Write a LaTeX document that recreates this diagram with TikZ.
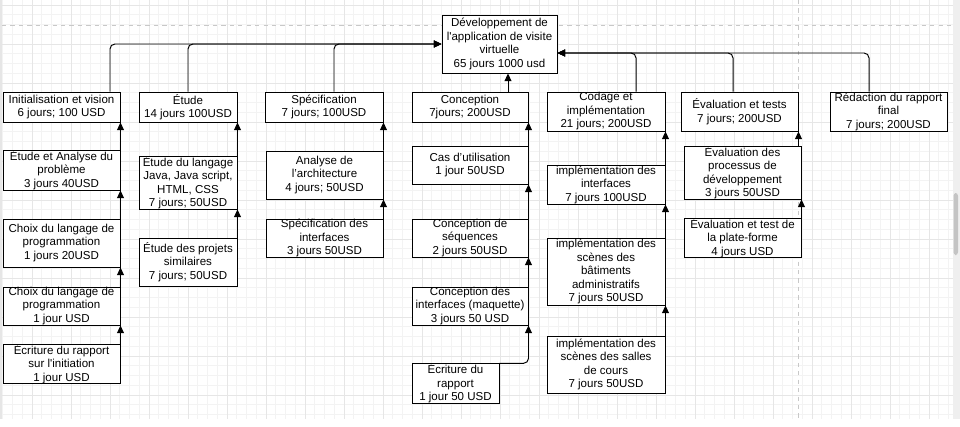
\documentclass[tikz,border=0pt]{standalone}
\usepackage{fontspec}
\setmainfont{Liberation Sans}
\usetikzlibrary{positioning, calc, arrows.meta}
\definecolor{gridminor}{HTML}{F3F3F3}
\definecolor{gridmajor}{HTML}{E6E6E6}
\definecolor{pageline}{HTML}{C8C8C8}
\definecolor{uitrack}{HTML}{EFEFEF}
\definecolor{uithumb}{HTML}{C4C4C4}
\tikzset{wbs/.style={draw, line width=0.7pt, fill=white, align=center, inner sep=0pt, font=\fontsize{8.2}{9.6}\selectfont}}
\tikzset{boxsize/.style 2 args={minimum width=#1*0.025cm, minimum height=#2*0.025cm}}
\tikzset{link/.style={line width=0.7pt, -{Triangle[width=5pt,length=5.5pt]}}}
\tikzset{bus/.style={link, rounded corners=3.5pt}}
\begin{document}
\begin{tikzpicture}[x=0.025cm, y=-0.025cm]
  \useasboundingbox (0,0) rectangle (960,427);
  \fill[white] (0,0) rectangle (960,427);

  % canvas grid
  \foreach \k in {-3,...,94}
    \draw[gridminor, line width=0.5pt] ({32+9.75*\k},0) -- ({32+9.75*\k},419);
  \foreach \k in {-4,...,38}
    \draw[gridminor, line width=0.5pt] (2,{44+9.75*\k}) -- (953,{44+9.75*\k});
  \foreach \k in {0,...,23}
    \draw[gridmajor, line width=0.5pt] ({32+39*\k},0) -- ({32+39*\k},419);
  \foreach \k in {-1,...,9}
    \draw[gridmajor, line width=0.5pt] (2,{44+39*\k}) -- (953,{44+39*\k});
  \draw[pageline, dashed, line width=0.5pt] (2,25) -- (953,25);
  \draw[pageline, dashed, line width=0.5pt] (798,0) -- (798,419);
  \fill[gridmajor] (0,0) rectangle (2,419);
  \fill[uitrack] (953,0) rectangle (960,419);
  \fill[uithumb, rounded corners=2pt] (953.5,193) rectangle (958,255);

  % root
  \node[wbs, boxsize={115}{58}] (root) at (499.5,44) {Développement de\\l\textquotesingle application de visite\\virtuelle\\65 jours 1000 usd};
  \coordinate (rootR) at ($(root.east)+(0,9)$);

  % first level
  \node[wbs, boxsize={117}{30}] (init) at (61.5,107) {Initialisation et vision\\6 jours; 100 USD};
  \node[wbs, boxsize={98}{30}] (etude) at (188,107) {Étude\\14 jours 100USD};
  \node[wbs, boxsize={118}{30}] (spec) at (324,107) {Spécification\\7 jours; 100USD};
  \node[wbs, boxsize={116}{30}] (concep) at (470,107) {Conception\\7jours; 200USD};
  \node[wbs, boxsize={118}{39}] (codage) at (606,111.5) {Codage et\\implémentation\\21 jours; 200USD};
  \node[wbs, boxsize={117}{39}] (evaltest) at (739.5,111.5) {Évaluation et tests\\7 jours; 200USD};
  \node[wbs, boxsize={117}{39}] (redac) at (888.5,111.5) {Rédaction du rapport\\final\\7 jours; 200USD};

  % initialisation
  \node[wbs, boxsize={117}{40}] (analyse) at (61.5,170) {Étude et Analyse du\\problème\\3 jours 40USD};
  \node[wbs, boxsize={117}{48}] (choix1) at (61.5,243) {Choix du langage de\\programmation\\1 jours 20USD};
  \node[wbs, boxsize={117}{38}] (choix2) at (61.5,306) {Choix du langage de\\programmation\\1 jour USD};
  \node[wbs, boxsize={117}{38}] (ecrinit) at (61.5,364) {Écriture du rapport\\sur l\textquotesingle initiation\\1 jour USD};

  % etude
  \node[wbs, boxsize={98}{53}] (langage) at (188,182.5) {Étude du langage\\Java, Java script,\\HTML, CSS\\7 jours; 50USD};
  \node[wbs, boxsize={98}{48}] (projets) at (188,262) {Étude des projets\\similaires\\7 jours; 50USD};

  % specification
  \node[wbs, boxsize={117}{48}] (archi) at (324.5,175) {Analyse de\\l'architecture\\4 jours; 50USD};
  \node[wbs, boxsize={117}{38}] (specint) at (324.5,238) {Spécification des\\interfaces\\3 jours 50USD};

  % conception
  \node[wbs, boxsize={116}{38}] (cas) at (470,165) {Cas d'utilisation\\1 jour 50USD};
  \node[wbs, boxsize={116}{38}] (seq) at (470,238) {Conception de\\séquences\\2 jours 50USD};
  \node[wbs, boxsize={116}{38}] (maquette) at (470,306) {Conception des\\interfaces (maquette)\\3 jours 50 USD};
  \node[wbs, boxsize={87}{39}] (ecrconc) at (455.5,383.5) {Écriture du\\rapport\\1 jour 50 USD};

  % codage
  \node[wbs, boxsize={118}{39}] (implint) at (606,184.5) {implémentation des\\interfaces\\7 jours 100USD};
  \node[wbs, boxsize={118}{67}] (implbat) at (606,271.5) {implémentation des\\scènes des\\bâtiments\\administratifs\\7 jours 50USD};
  \node[wbs, boxsize={118}{57}] (implsalles) at (606,364.5) {implémentation des\\scènes des salles\\de cours\\7 jours 50USD};

  % evaluation
  \node[wbs, boxsize={117}{53}] (evalproc) at (742.5,172.5) {Évaluation des\\processus de\\développement\\3 jours 50USD};
  \node[wbs, boxsize={117}{38}] (plateforme) at (742.5,238) {Évaluation et test de\\la plate-forme\\4 jours USD};

  % links to the root
  \draw[bus] (110,0 |- init.north) |- (root.west);
  \draw[bus] (etude.north) |- (root.west);
  \draw[bus] (334,0 |- spec.north) |- (root.west);
  \draw[link] (508,0 |- concep.north) -- (508,0 |- root.south);
  \draw[bus] (636,0 |- codage.north) |- (rootR);
  \draw[bus] (733,0 |- evaltest.north) |- (rootR);
  \draw[bus] (869,0 |- redac.north) |- (rootR);

  % chains
  \draw[link] (analyse.north east) -- (init.south east);
  \draw[link] (choix1.north east) -- (analyse.south east);
  \draw[link] (choix2.north east) -- (choix1.south east);
  \draw[link] (ecrinit.north east) -- (choix2.south east);

  \draw[link] (langage.north east) -- (etude.south east);
  \draw[link] (projets.north east) -- (langage.south east);

  \draw[link] (archi.north east) -- (spec.south east);
  \draw[link] (specint.north east) -- (archi.south east);

  \draw[link] (cas.north east) -- (concep.south east);
  \draw[link] (seq.north east) -- (cas.south east);
  \draw[link] (maquette.north east) -- (seq.south east);
  \draw[bus] (ecrconc.north east) -| (maquette.south east);

  \draw[link] (implint.north east) -- (codage.south east);
  \draw[link] (implbat.north east) -- (implint.south east);
  \draw[link] (implsalles.north east) -- (implbat.south east);

  \draw[link] (evaltest.south east |- evalproc.north) -- (evaltest.south east);
  \draw[link] (plateforme.north east) -- (evalproc.south east);
\end{tikzpicture}
\end{document}
